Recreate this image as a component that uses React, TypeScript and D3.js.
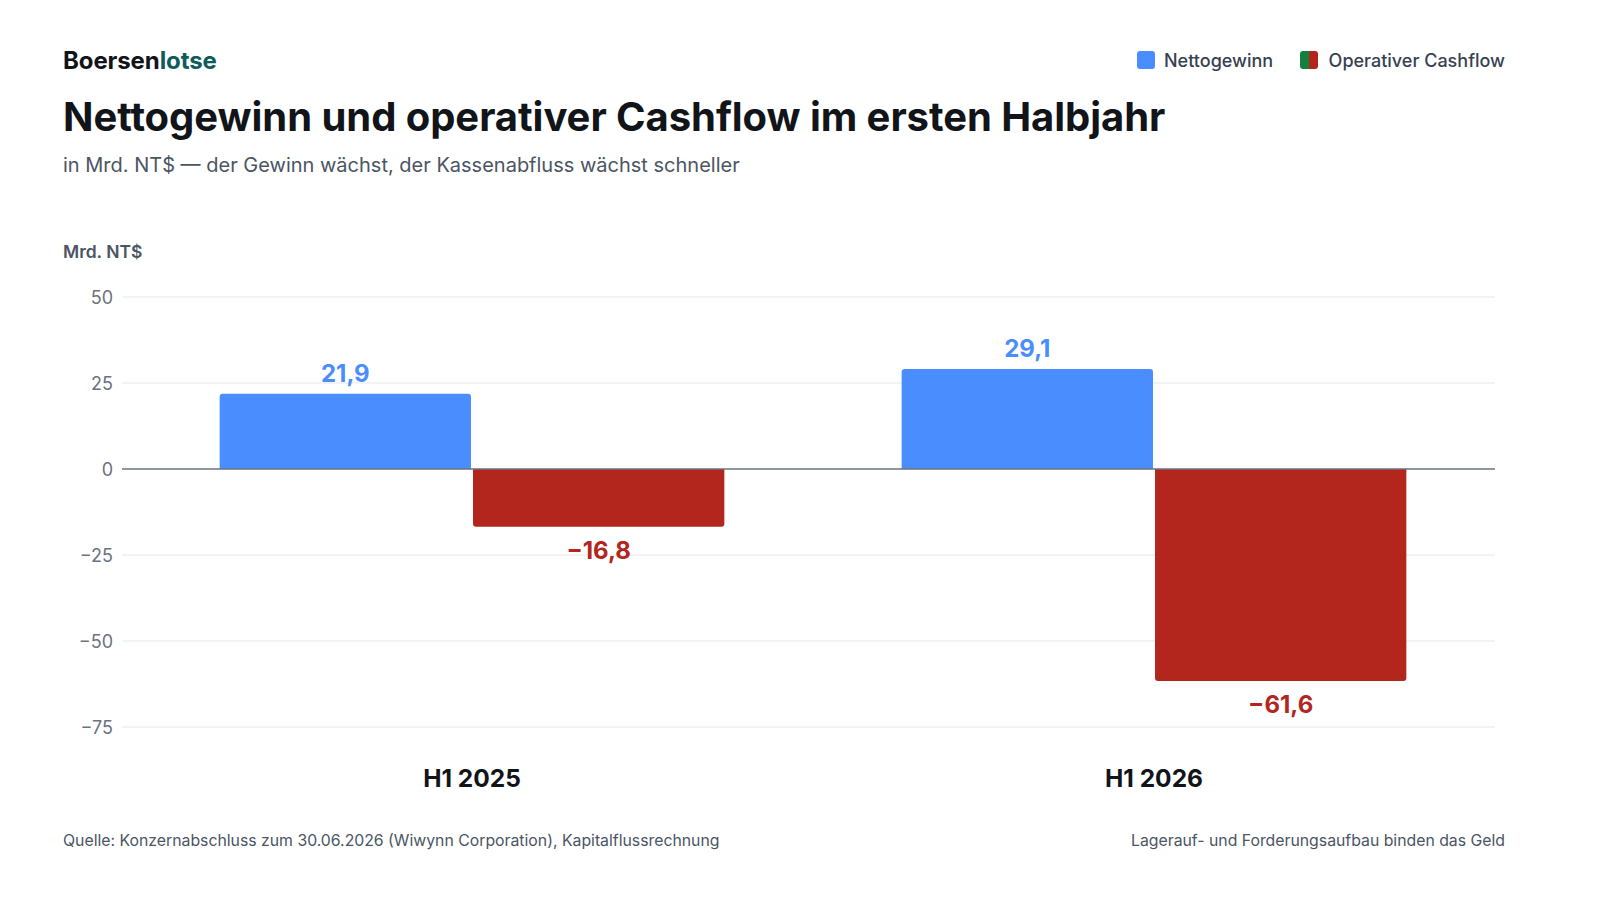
import React from "react";
import * as d3 from "d3";

const categories = ["H1 2025", "H1 2026"];
const seriesNames = ["Nettogewinn", "Operativer Cashflow"];
const nettogewinn = [21.9, 29.1];
const operativerCashflow = [-16.8, -61.6];
const yTicks = [50, 25, 0, -25, -50, -75];

const W = 1600;
const H = 900;
const FONT = "Inter, 'Noto Sans', sans-serif";
const BLUE = "#4a8dff";
const RED = "#b3261e";
const GREEN = "#15803d";

const fmt = (v: number) => {
  const s = Math.abs(v).toFixed(1).replace(".", ",");
  return v < 0 ? "\u2212" + s : s;
};
const fmtTick = (v: number) => (v < 0 ? "\u2212" + Math.abs(v) : String(v));

export default function App() {
  const y = d3.scaleLinear().domain([-75, 50]).range([727, 297]);
  const x0 = d3.scaleBand<string>().domain(categories).range([131, 1495]).paddingInner(0.26).paddingOuter(0.13);
  const x1 = d3.scaleBand<string>().domain(seriesNames).range([0, x0.bandwidth()]).paddingInner(0.008);
  const series = [nettogewinn, operativerCashflow];
  const colors = [BLUE, RED];

  const barPath = (x: number, w: number, v: number) => {
    const r = 3;
    const y0 = y(0);
    const yv = y(v);
    if (v >= 0) {
      return `M${x},${y0}V${yv + r}Q${x},${yv} ${x + r},${yv}H${x + w - r}Q${x + w},${yv} ${x + w},${yv + r}V${y0}Z`;
    }
    return `M${x},${y0}V${yv - r}Q${x},${yv} ${x + r},${yv}H${x + w - r}Q${x + w},${yv} ${x + w},${yv - r}V${y0}Z`;
  };

  return (
    <div style={{ position: "absolute", left: 0, top: 0, width: W, height: H, background: "#fff" }}>
      <svg width={W} height={H} style={{ display: "block", fontFamily: FONT }}>
        <rect width={W} height={H} fill="#fff" />
        <text x={63} y={69} fontSize={24} fontWeight={700} letterSpacing={-0.1}>
          <tspan fill="#111418">Boersen</tspan>
          <tspan fill="#0f5b5c">lotse</tspan>
        </text>
        <text x={63} y={131} fontSize={40} fontWeight={700} fill="#111418" letterSpacing={-0.05}>
          Nettogewinn und operativer Cashflow im ersten Halbjahr
        </text>
        <text x={63} y={172} fontSize={20} fill="#4b5563">
          in Mrd. NT$ — der Gewinn wächst, der Kassenabfluss wächst schneller
        </text>

        {/* legend */}
        <g>
          <rect x={1137} y={51} width={18} height={18} rx={3} fill={BLUE} />
          <text x={1164} y={66.5} fontSize={18} fontWeight={500} fill="#374151">Nettogewinn</text>
          <clipPath id="sw2"><rect x={1300} y={51} width={18} height={18} rx={3} /></clipPath>
          <g clipPath="url(#sw2)">
            <rect x={1300} y={51} width={9} height={18} fill={GREEN} />
            <rect x={1309} y={51} width={9} height={18} fill={RED} />
          </g>
          <text x={1505} y={66.5} fontSize={18} fontWeight={500} fill="#374151" textAnchor="end">Operativer Cashflow</text>
        </g>

        <text x={63} y={258} fontSize={17.5} fontWeight={600} fill="#4b5563">Mrd. NT$</text>

        {/* grid */}
        {yTicks.map((t) => (
          <g key={t}>
            {t !== 0 && <line x1={122} x2={1495} y1={y(t)} y2={y(t)} stroke="#e5e7eb" strokeWidth={1.2} />}
            <text x={113} y={y(t) + 6.5} fontSize={18} fill="#6b7280" textAnchor="end">{fmtTick(t)}</text>
          </g>
        ))}

        {/* bars */}
        {categories.map((c, i) => (
          <g key={c}>
            {series.map((s, j) => {
              const bx = (x0(c) as number) + (x1(seriesNames[j]) as number);
              const bw = x1.bandwidth();
              const v = s[i];
              return (
                <g key={j}>
                  <path d={barPath(bx, bw, v)} fill={colors[j]} />
                  <text
                    x={bx + bw / 2}
                    y={v >= 0 ? y(v) - 12 : y(v) + 32}
                    fontSize={24}
                    fontWeight={700}
                    fill={colors[j]}
                    textAnchor="middle"
                  >
                    {fmt(v)}
                  </text>
                </g>
              );
            })}
            <text x={(x0(c) as number) + x0.bandwidth() / 2} y={787} fontSize={24.5} fontWeight={700} fill="#111418" textAnchor="middle">
              {c}
            </text>
          </g>
        ))}

        <line x1={122} x2={1495} y1={y(0)} y2={y(0)} stroke="#6b7280" strokeWidth={1.5} />

        <text x={63} y={846} fontSize={15.8} fill="#4b5563">
          Quelle: Konzernabschluss zum 30.06.2026 (Wiwynn Corporation), Kapitalflussrechnung
        </text>
        <text x={1505} y={846} fontSize={15.8} fill="#4b5563" textAnchor="end">
          Lagerauf- und Forderungsaufbau binden das Geld
        </text>
      </svg>
    </div>
  );
}
